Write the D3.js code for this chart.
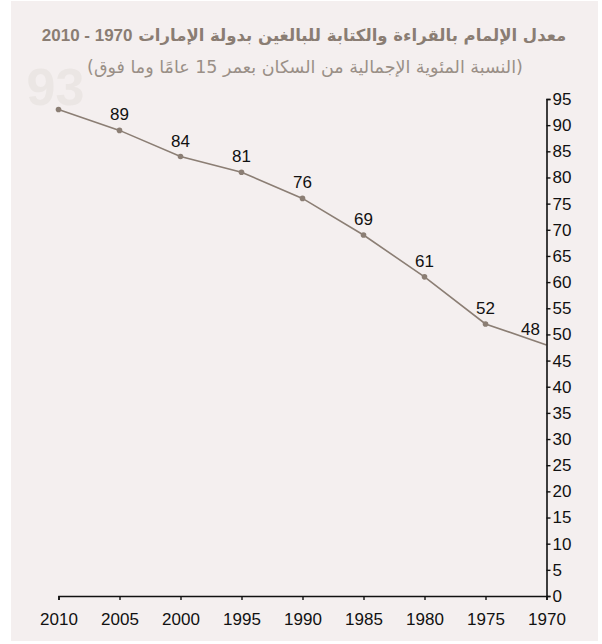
<!DOCTYPE html>
<html>
<head>
<meta charset="utf-8">
<script src="https://cdn.jsdelivr.net/npm/d3@7"></script>
<style>
  body { margin: 0; background: #ffffff; }
  svg { display: block; }
</style>
</head>
<body>
<svg id="chart" width="602" height="644"></svg>
<script>
// Adult literacy rate in the UAE, 1970–2010 (% of population aged 15+)
const years = [2010, 2005, 2000, 1995, 1990, 1985, 1980, 1975, 1970];
const literacy = [93, 89, 84, 81, 76, 69, 61, 52, 48];
const yTicks = [0, 5, 10, 15, 20, 25, 30, 35, 40, 45, 50, 55, 60, 65, 70, 75, 80, 85, 90, 95];
const titleArabic = "معدل الإلمام بالقراءة والكتابة للبالغين بدولة الإمارات";
const titleYears = "1970 - 2010";
const subtitleText = "(النسبة المئوية الإجمالية من السكان بعمر 15 عامًا وما فوق)";

const svg = d3.select("#chart");
const latin = "'Liberation Sans', Arial, sans-serif";
const arabic = "'DejaVu Sans', 'Noto Sans', sans-serif";
const lineColor = "#8b7e74";

// panel background
svg.append("rect")
  .attr("x", 11).attr("y", 1)
  .attr("width", 587).attr("height", 640)
  .attr("fill", "#f4efef");

const x = d3.scaleLinear().domain([2010, 1970]).range([58.5, 546.5]);
const y = d3.scaleLinear().domain([0, 95]).range([596, 99]);

const points = years.map((yr, i) => ({ year: yr, value: literacy[i] }));

// title (right-to-left)
const title = svg.append("text")
  .attr("x", 304).attr("y", 41)
  .attr("direction", "rtl")
  .attr("text-anchor", "middle")
  .attr("fill", "#8a7d73")
  .attr("font-weight", "bold");
title.append("tspan")
  .attr("font-family", arabic)
  .attr("font-size", 16.5)
  .text(titleArabic + "  ");
title.append("tspan")
  .attr("font-family", latin)
  .attr("font-size", 17)
  .text(titleYears);

svg.append("text")
  .attr("x", 305).attr("y", 73)
  .attr("direction", "rtl")
  .attr("text-anchor", "middle")
  .attr("fill", "#9a8f87")
  .attr("font-family", arabic)
  .attr("font-size", 17.5)
  .text(subtitleText);

// large watermark figure for the latest year
svg.append("text")
  .attr("x", x(years[0]) - 32)
  .attr("y", y(literacy[0]) - 4)
  .attr("fill", "#ebe6e4")
  .attr("font-family", latin)
  .attr("font-weight", "bold")
  .attr("font-size", 52)
  .text(literacy[0]);

// line
const line = d3.line().x(d => x(d.year)).y(d => y(d.value));
svg.append("path")
  .datum(points)
  .attr("fill", "none")
  .attr("stroke", lineColor)
  .attr("stroke-width", 1.6)
  .attr("d", line);

svg.selectAll("circle.pt")
  .data(points.filter(d => d.year !== 1970))
  .join("circle")
  .attr("class", "pt")
  .attr("cx", d => x(d.year))
  .attr("cy", d => y(d.value))
  .attr("r", 2.8)
  .attr("fill", lineColor);

// value labels
svg.selectAll("text.val")
  .data(points.slice(1))
  .join("text")
  .attr("class", "val")
  .attr("x", d => x(d.year) + (d.year === 1970 ? -16 : 0))
  .attr("y", d => y(d.value) - 10)
  .attr("text-anchor", "middle")
  .attr("font-family", latin)
  .attr("font-size", 17)
  .attr("fill", "#111")
  .text(d => d.value);

// axes
const yAxis = svg.append("g")
  .attr("transform", "translate(546.5,0)")
  .call(d3.axisRight(y).tickValues(yTicks).tickSize(4).tickPadding(2));
const xAxis = svg.append("g")
  .attr("transform", "translate(0,596)")
  .call(d3.axisBottom(x).tickValues(years).tickFormat(d3.format("d")).tickSize(4).tickPadding(13));

[yAxis, xAxis].forEach(g => {
  g.select(".domain").attr("stroke", "#111").attr("stroke-width", 1.6);
  g.selectAll(".tick line").attr("stroke", "#111").attr("stroke-width", 1.4);
  g.selectAll(".tick text")
    .attr("font-family", latin)
    .attr("font-size", 17)
    .attr("fill", "#111");
});
</script>
</body>
</html>
